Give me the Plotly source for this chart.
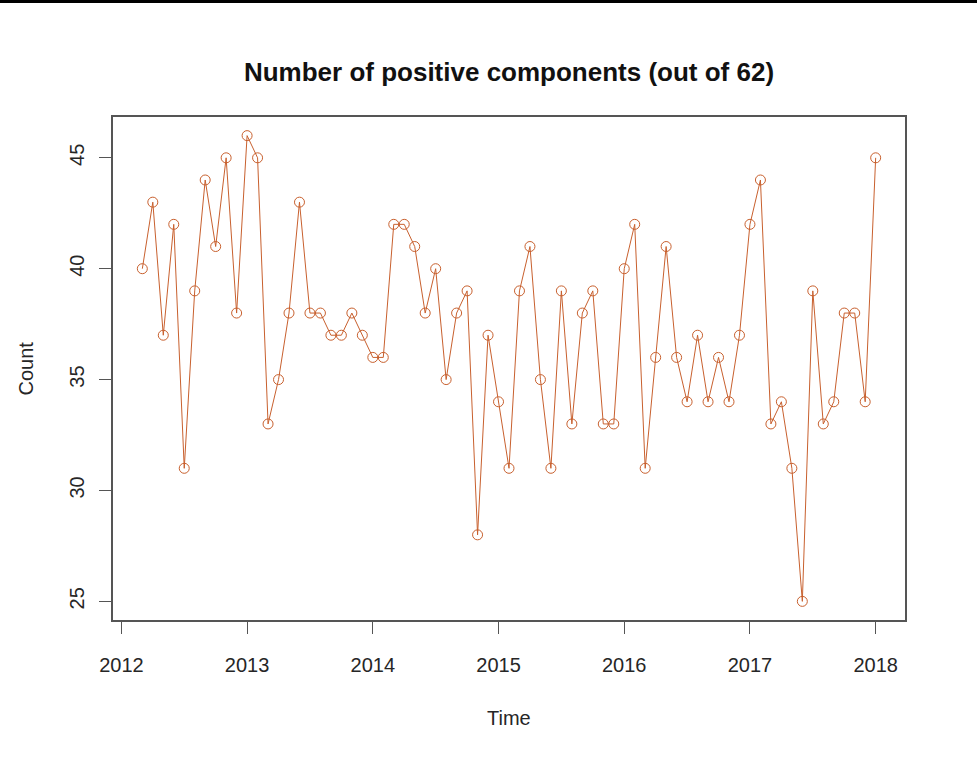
import plotly.graph_objects as go

# Monthly series, March 2012 .. January 2018
start_year = 2012
start_month = 3
counts = [
    40, 43, 37, 42, 31, 39, 44, 41, 45, 38,              # 2012 Mar-Dec
    46, 45, 33, 35, 38, 43, 38, 38, 37, 37, 38, 37,      # 2013
    36, 36, 42, 42, 41, 38, 40, 35, 38, 39, 28, 37,      # 2014
    34, 31, 39, 41, 35, 31, 39, 33, 38, 39, 33, 33,      # 2015
    40, 42, 31, 36, 41, 36, 34, 37, 34, 36, 34, 37,      # 2016
    42, 44, 33, 34, 31, 25, 39, 33, 34, 38, 38, 34,      # 2017
    45,                                                  # 2018 Jan
]
x_ticks = [2012, 2013, 2014, 2015, 2016, 2017, 2018]
y_ticks = [25, 30, 35, 40, 45]
title_text = "Number of positive components (out of 62)"
x_label = "Time"
y_label = "Count"

times = [start_year + (start_month - 1 + i) / 12 for i in range(len(counts))]

col = "#c8602e"
axcol = "#555555"
txtcol = "#262626"
font = "Liberation Sans, Arial, sans-serif"

fig = go.Figure()
fig.add_trace(go.Scatter(
    x=times, y=counts, mode="lines+markers",
    line=dict(color=col, width=1),
    marker=dict(symbol="circle-open", size=10, color=col, line=dict(width=1, color=col)),
    showlegend=False, hoverinfo="x+y",
))

xmin, xmax = times[0], times[-1]
ymin, ymax = min(counts), max(counts)
xpad = (xmax - xmin) * 0.04
ypad = (ymax - ymin) * 0.04

fig.update_layout(
    width=977, height=760,
    margin=dict(l=113, r=72, t=117, b=140),
    paper_bgcolor="white", plot_bgcolor="white",
    font=dict(family=font, size=20, color=txtcol),
    title=dict(text="<b>" + title_text + "</b>", x=0.521, xanchor="center",
               y=1 - 72 / 760, yanchor="middle",
               font=dict(family=font, size=26, color="#111111")),
    xaxis=dict(range=[xmin - xpad, xmax + xpad], tickvals=x_ticks,
               ticktext=[str(v) for v in x_ticks],
               showgrid=False, zeroline=False, showline=True, mirror=True,
               linecolor=axcol, linewidth=1.5, ticks="outside", ticklen=12,
               tickcolor=axcol, tickwidth=1, ticklabelstandoff=14,
               tickfont=dict(size=20, color=txtcol)),
    yaxis=dict(range=[ymin - ypad, ymax + ypad], tickvals=y_ticks,
               ticktext=[str(v) for v in y_ticks], tickangle=-90,
               showgrid=False, zeroline=False, showline=True, mirror=True,
               linecolor=axcol, linewidth=1.5, ticks="outside", ticklen=12,
               tickcolor=axcol, tickwidth=1, ticklabelstandoff=7,
               tickfont=dict(size=20, color=txtcol)),
    annotations=[
        dict(text=x_label, xref="paper", yref="paper", x=0.5, y=-(718 - 620) / 503,
             xanchor="center", yanchor="middle", showarrow=False,
             font=dict(size=20, color=txtcol)),
        dict(text=y_label, xref="paper", yref="paper", x=-(113 - 25) / 792, y=0.5,
             xanchor="center", yanchor="middle", textangle=-90, showarrow=False,
             font=dict(size=20, color=txtcol)),
    ],
    shapes=[dict(type="rect", xref="paper", yref="paper",
                 x0=-0.2, x1=1.2, y0=1 + 117 / 503 - 3 / 503, y1=1 + 117 / 503 + 0.01,
                 fillcolor="black", line=dict(width=0), layer="above")],
)

fig.write_html("out.html")
